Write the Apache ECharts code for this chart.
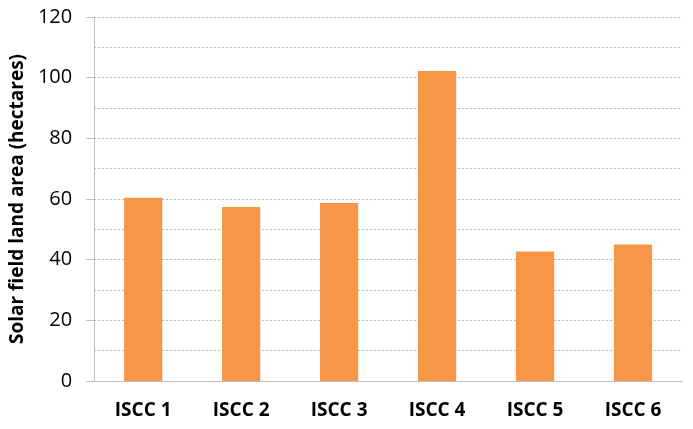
<!DOCTYPE html>
<html><head><meta charset="utf-8">
<script src="https://cdn.jsdelivr.net/npm/echarts@6/dist/echarts.min.js"></script>
<style>html,body{margin:0;padding:0;background:#fff}#c{width:693px;height:429px}</style>
</head><body><div id="c"></div>
<script>
const categories = ['ISCC 1','ISCC 2','ISCC 3','ISCC 4','ISCC 5','ISCC 6'];
const values = [60.4, 57.4, 58.7, 102.2, 42.7, 45.0];
const yTitle = 'Solar field land area (hectares)';
const chart = echarts.init(document.getElementById('c'));
chart.setOption({
  animation: false,
  grid: {left: 92, right: 11, top: 17, bottom: 48},
  xAxis: {
    type: 'category', data: categories,
    axisLine: {lineStyle: {color: '#bfbfbf', width: 1}},
    axisTick: {show: false},
    axisLabel: {color: '#000', fontFamily: 'Open Sans', fontWeight: 'bold', fontSize: 19, margin: 20}
  },
  yAxis: {
    type: 'value', min: 0, max: 120, interval: 20,
    name: yTitle, nameLocation: 'middle', nameGap: 62,
    nameTextStyle: {color: '#000', fontFamily: 'Open Sans', fontWeight: 'bold', fontSize: 19, verticalAlign: 'bottom', lineHeight: 19},
    axisLine: {show: true, lineStyle: {color: '#bfbfbf', width: 1}},
    axisTick: {show: true, length: 8, lineStyle: {color: '#bfbfbf'}},
    axisLabel: {color: '#000', fontFamily: 'Open Sans', fontSize: 20, margin: 22},
    splitLine: {show: true, lineStyle: {color: '#b5b5b5', type: [2, 2], width: 1}},
    minorTick: {show: false, splitNumber: 2},
    minorSplitLine: {show: true, lineStyle: {color: '#b5b5b5', type: [2, 2], width: 1}}
  },
  series: [{
    type: 'bar', data: values, barWidth: '39%',
    itemStyle: {color: '#F79646'}
  }]
});
</script></body></html>
